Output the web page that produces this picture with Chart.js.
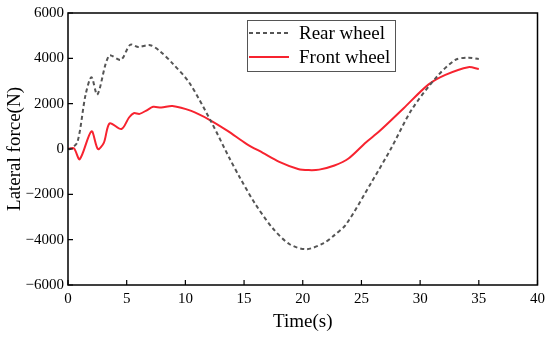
<!DOCTYPE html>
<html lang="en">
<head>
    <meta charset="UTF-8">
    <title>Lateral force</title>
    <script src="https://cdn.jsdelivr.net/npm/chart.js"></script>
    <style>
        html, body { margin: 0; padding: 0; background: #fff; }
        #wrap { width: 550px; height: 337px; }
    </style>
</head>
<body>
    <div id="wrap"><canvas id="forceChart"></canvas></div>

    <script>
        // values
        const rearTime  = [0, 0.2, 0.8, 1.5, 2.0, 2.5, 3.5, 4.5, 5.3, 6.0, 7.0, 7.8, 8.9, 10.35, 12.2, 13.75, 14.6, 15.9, 17.4, 18.85, 20.3, 21.8, 22.7, 23.7, 25.9, 27.5, 29.3, 31.45, 33.0, 34.1, 35.0];
        const rearForce = [0, 0, 300, 2400, 3170, 2400, 4120, 3930, 4600, 4500, 4580, 4330, 3780, 2910, 1200, -400, -1220, -2380, -3470, -4190, -4420, -4150, -3800, -3320, -1430, 0, 1750, 3200, 3930, 4030, 3970];

        const frontTime  = [0, 0.5, 1.0, 2.0, 2.55, 3.05, 3.55, 4.55, 5.2, 5.6, 6.1, 6.75, 7.25, 7.95, 8.9, 10.5, 12.05, 13.6, 15.2, 16.6, 18.0, 19.6, 20.5, 21.4, 22.7, 23.9, 25.4, 26.5, 28.6, 30.7, 32.15, 34.1, 35.0];
        const frontForce = [0, 30, -450, 780, 0, 270, 1130, 880, 1390, 1580, 1550, 1720, 1860, 1830, 1900, 1680, 1290, 800, 230, -170, -565, -880, -930, -910, -730, -420, 300, 770, 1800, 2840, 3270, 3610, 3530];

        const yTicks = [-6000, -4000, -2000, 0, 2000, 4000, 6000];
        const xTicks = [0, 5, 10, 15, 20, 25, 30, 35, 40];

        const serif = "'Liberation Serif', 'Times New Roman', serif";

        function pts(xs, ys) {
            return xs.map((x, i) => ({ x: x, y: ys[i] }));
        }

        // box round the plot, ticks pointing inward, legend inside
        const framePlugin = {
            id: 'frame',
            afterDatasetsDraw(chart) {
                const c = chart.ctx;
                const a = chart.chartArea;
                const xs = chart.scales.x, ys = chart.scales.y;
                c.save();
                c.strokeStyle = '#000';
                c.lineWidth = 1.5;
                c.strokeRect(a.left, a.top, a.right - a.left, a.bottom - a.top);
                c.lineWidth = 1.2;
                c.beginPath();
                xTicks.forEach(v => {
                    const px = xs.getPixelForValue(v);
                    c.moveTo(px, a.bottom);
                    c.lineTo(px, a.bottom - 5);
                });
                yTicks.forEach(v => {
                    const py = ys.getPixelForValue(v);
                    c.moveTo(a.left, py);
                    c.lineTo(a.left + 5, py);
                });
                c.stroke();

                // legend
                const bx = 247, by = 20, bw = 148, bh = 51;
                c.fillStyle = '#fff';
                c.fillRect(bx, by, bw, bh);
                c.strokeStyle = '#555';
                c.lineWidth = 1;
                c.strokeRect(bx + 0.5, by + 0.5, bw, bh);
                c.font = '19px ' + serif;
                c.textBaseline = 'middle';
                chart.data.datasets.forEach((ds, i) => {
                    const ly = by + 13 + i * 24;
                    c.strokeStyle = ds.borderColor;
                    c.lineWidth = ds.borderWidth;
                    c.setLineDash(ds.borderDash || []);
                    c.beginPath();
                    c.moveTo(bx + 2, ly);
                    c.lineTo(bx + 42, ly);
                    c.stroke();
                    c.setLineDash([]);
                    c.fillStyle = '#000';
                    c.fillText(ds.label, bx + 52, ly + 1);
                });
                c.restore();
            }
        };

        const ctx = document.getElementById('forceChart').getContext('2d');
        const chart = new Chart(ctx, {
            type: 'line',
            data: {
                datasets: [{
                    label: 'Rear wheel',
                    data: pts(rearTime, rearForce),
                    borderColor: '#555555',
                    borderWidth: 2,
                    borderDash: [4, 3],
                    pointRadius: 0,
                    tension: 0.3,
                    fill: false
                }, {
                    label: 'Front wheel',
                    data: pts(frontTime, frontForce),
                    borderColor: '#f7232f',
                    borderWidth: 2,
                    pointRadius: 0,
                    tension: 0.3,
                    fill: false
                }]
            },
            options: {
                responsive: true,
                maintainAspectRatio: false,
                animation: false,
                layout: { padding: { top: 9, right: 11, left: 0, bottom: 0 } },
                plugins: {
                    legend: { display: false },
                    tooltip: { enabled: false }
                },
                scales: {
                    x: {
                        type: 'linear',
                        min: 0,
                        max: 40,
                        afterBuildTicks: s => { s.ticks = xTicks.map(v => ({ value: v })); },
                        afterFit: s => { s.height = 52; },
                        grid: { display: false, drawTicks: false },
                        border: { display: false },
                        ticks: { color: '#000', font: { family: serif, size: 15 }, padding: 5, maxRotation: 0 },
                        title: { display: true, text: 'Time(s)', color: '#000', font: { family: serif, size: 19 }, padding: { top: 5 } }
                    },
                    y: {
                        min: -6000,
                        max: 6000,
                        afterBuildTicks: s => { s.ticks = yTicks.map(v => ({ value: v })); },
                        afterFit: s => { s.width = 68; },
                        grid: { display: false, drawTicks: false },
                        border: { display: false },
                        ticks: {
                            color: '#000',
                            font: { family: serif, size: 15 },
                            padding: 4,
                            callback: v => v < 0 ? '\u2212' + Math.abs(v) : String(v)
                        },
                        title: { display: true, text: 'Lateral force(N)', color: '#000', font: { family: serif, size: 19 }, padding: { bottom: 0 } }
                    }
                }
            },
            plugins: [framePlugin]
        });
    </script>
</body>
</html>
